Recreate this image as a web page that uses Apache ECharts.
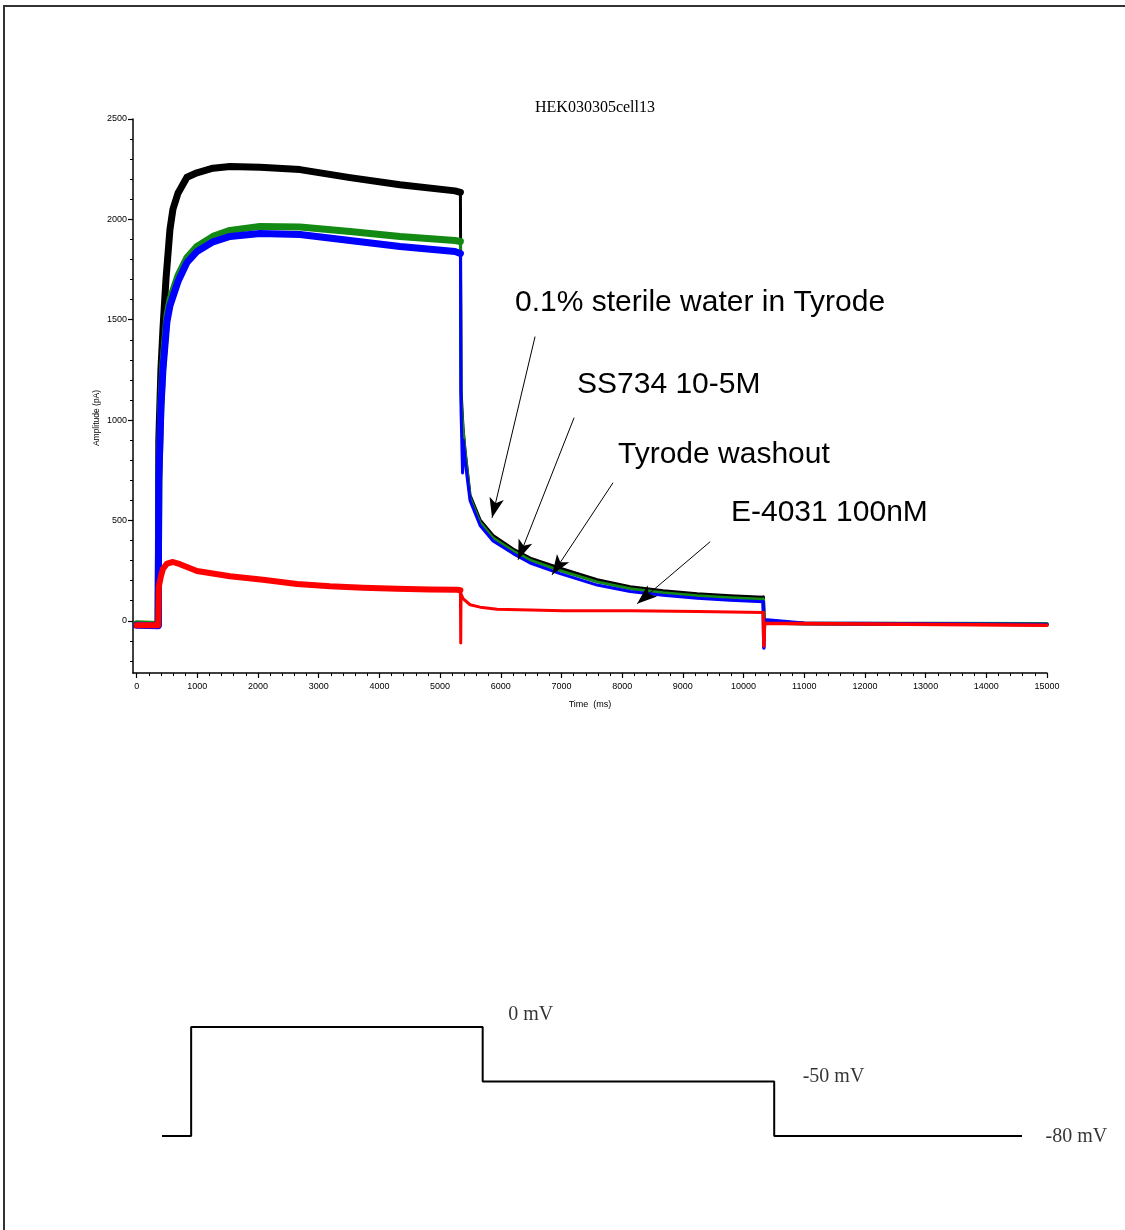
<!DOCTYPE html>
<html>
<head>
<meta charset="utf-8">
<title>HEK030305cell13</title>
<script src="https://cdn.jsdelivr.net/npm/echarts@6/dist/echarts.min.js"></script>
<style>
  html, body { margin: 0; padding: 0; background: #ffffff; }
  #chart { width: 1125px; height: 1230px; }
</style>
</head>
<body>
<div id="chart"></div>
<script>
// ---- Current traces, [time (ms), amplitude (pA)] ----
const blackTrace = [ // 0.1% sterile water in Tyrode
  [0, -18], [355, -20], [365, 900], [400, 1250], [433, 1450], [483, 1700], [549, 1950],
  [598, 2050], [681, 2130], [829, 2210], [994, 2232], [1258, 2255], [1538, 2263],
  [2032, 2260], [2692, 2248], [3516, 2208], [4340, 2172], [5246, 2142], [5335, 2135],
  [5345, 1150], [5378, 960], [5411, 850], [5494, 625], [5659, 503], [5873, 425],
  [6203, 358], [6484, 312], [6978, 262], [7588, 205], [8132, 170], [8676, 150],
  [9236, 135], [9780, 125], [10324, 118],
  [10340, -10], [11000, -15], [15000, -18]
];
const greenTrace = [ // SS734 10-5M
  [0, -15], [355, -18], [365, 700], [400, 1080], [433, 1280], [499, 1520], [549, 1600],
  [681, 1720], [829, 1810], [994, 1865], [1258, 1915], [1538, 1945], [2032, 1965],
  [2692, 1962], [3516, 1940], [4340, 1915], [5246, 1895], [5335, 1890],
  [5345, 1100], [5378, 950], [5411, 840], [5494, 612], [5659, 490], [5873, 412],
  [6203, 348], [6484, 302], [6978, 250], [7588, 194], [8132, 160], [8676, 140],
  [9236, 125], [9780, 115], [10324, 108],
  [10340, -5], [11000, -12], [15000, -15]
];
const blueTrace = [ // Tyrode washout
  [0, -22], [355, -24], [365, 700], [400, 1060], [433, 1250], [499, 1490], [549, 1570],
  [681, 1690], [829, 1785], [994, 1840], [1258, 1888], [1538, 1915], [2032, 1930],
  [2692, 1925], [3516, 1895], [4340, 1865], [5246, 1840], [5335, 1830],
  [5345, 1050], [5370, 737], [5382, 900], [5411, 800], [5494, 598], [5659, 475],
  [5873, 398], [6203, 335], [6484, 288], [6978, 235], [7588, 178], [8132, 146],
  [8676, 127], [9236, 112], [9780, 102], [10324, 95],
  [10335, -135], [10345, 5], [11000, -12], [15000, -18]
];
const redTrace = [ // E-4031 100nM
  [0, -22], [355, -22], [365, 170], [400, 222], [433, 258], [499, 285], [598, 293],
  [714, 282], [994, 248], [1538, 222], [2082, 205], [2642, 183], [3186, 172],
  [3730, 165], [4290, 160], [4834, 156], [5280, 155], [5335, 152],
  [5340, -110], [5345, 135], [5378, 110], [5494, 80], [5659, 68], [5939, 58],
  [7027, 50], [8132, 50], [9236, 46], [10324, 42],
  [10335, -125], [10345, -12], [15000, -22]
];

// Protocol phase boundaries (ms) used to split each trace
const stepOff = 5340;
const tailOff = 10335;

// Axis tick values
const xMajorTicks = [0, 1000, 2000, 3000, 4000, 5000, 6000, 7000, 8000, 9000, 10000, 11000, 12000, 13000, 14000, 15000];
const xMinorTicks = [];
for (let t = 200; t < 15000; t += 200) if (t % 1000 !== 0) xMinorTicks.push(t);
const yMajorTicks = [0, 500, 1000, 1500, 2000, 2500];
const yMinorTicks = [];
for (let v = -200; v < 2500; v += 100) if (v % 500 !== 0) yMinorTicks.push(v);

// Voltage protocol (schematic): breakpoints and level held between them
const protocolTimes = [0, 500, 5500, 10500, 14750];
const protocolLevels = ['-80', '0', '-50', '-80'];
const protocolLevelAxis = ['-80', '-50', '0'];

// Annotation arrows: [label, start [t, pA], tip [t, pA]]
const annotations = [
  ['0.1% sterile water in Tyrode', [6565, 1416], [5856, 513]],
  ['SS734 10-5M', [7208, 1012], [6285, 304]],
  ['Tyrode washout', [7850, 688], [6845, 229]],
  ['E-4031 100nM', [9450, 394], [8246, 85]]
];

// ---- helpers ----
function phase(trace, t0, t1) {
  const out = [];
  let prev = null;
  for (const p of trace) {
    if (p[0] < t0) prev = p;
    else if (p[0] < t1) out.push(p);
  }
  return prev ? [prev].concat(out) : out;
}

const traces = [
  { data: blackTrace, color: '#000000', width: 7 },
  { data: greenTrace, color: '#138a13', width: 7 },
  { data: blueTrace,  color: '#0000ff', width: 7 },
  { data: redTrace,   color: '#ff0000', width: 6 }
];

const series = [];
traces.forEach(tr => {
  const parts = [
    [phase(tr.data, -Infinity, stepOff), tr.width],
    [phase(tr.data, stepOff, tailOff), 3],
    [phase(tr.data, tailOff, Infinity), 3.5]
  ];
  parts.forEach(([d, w]) => {
    series.push({
      type: 'line', xAxisIndex: 0, yAxisIndex: 0,
      data: d, showSymbol: false, silent: true,
      lineStyle: { color: tr.color, width: w, join: 'round', cap: 'round' }
    });
  });
});

// Arrows pointing to the tail currents
series.push({
  type: 'line', xAxisIndex: 0, yAxisIndex: 0, data: [], silent: true,
  markLine: {
    silent: true, animation: false,
    symbol: ['none', 'arrow'], symbolSize: [11, 20],
    lineStyle: { color: '#000000', width: 1, type: 'solid' },
    label: { show: false },
    emphasis: { disabled: true },
    data: annotations.map(a => [{ coord: a[1] }, { coord: a[2] }])
  }
});

// Voltage step protocol
const protocolData = [];
for (let i = 0; i < protocolLevels.length; i++) {
  protocolData.push([protocolTimes[i], protocolLevels[i]]);
  protocolData.push([protocolTimes[i + 1], protocolLevels[i]]);
}
series.push({
  type: 'line', xAxisIndex: 2, yAxisIndex: 2, data: protocolData,
  showSymbol: false, silent: true,
  lineStyle: { color: '#000000', width: 2 }
});
const protocolLabelOffsets = [[25, -12], [28, -5], [23, 1]];
series.push({
  type: 'scatter', xAxisIndex: 2, yAxisIndex: 2, silent: true,
  symbolSize: 1, itemStyle: { color: 'rgba(0,0,0,0)' },
  data: protocolLevels.slice(1).map((lv, i) => ({
    value: [protocolTimes[i + 2], lv],
    label: { offset: protocolLabelOffsets[i] }
  })),
  label: {
    show: true, position: 'right', distance: 0,
    formatter: p => p.value[1] + ' mV',
    fontFamily: '"Liberation Serif", "Times New Roman", serif',
    fontSize: 20, color: '#000000'
  }
});

const plainNumber = v => String(v);
const axisFont = { fontFamily: '"Liberation Sans", Arial, sans-serif', fontSize: 9, color: '#000000' };

const option = {
  animation: false,
  backgroundColor: '#ffffff',
  title: {
    text: 'HEK030305cell13',
    left: 590, top: 95, textAlign: 'center',
    textStyle: { fontFamily: '"Liberation Serif", "Times New Roman", serif', fontSize: 16, fontWeight: 'normal', color: '#000000' }
  },
  grid: [
    { left: 133, top: 119, width: 914, height: 554, outerBoundsMode: 'none', containLabel: false },
    { left: 162, top: 1027, width: 860, height: 109, outerBoundsMode: 'none', containLabel: false }
  ],
  xAxis: [
    {
      type: 'value', gridIndex: 0, position: 'bottom', min: -60, max: 15000,
      axisLine: { show: true, onZero: false, lineStyle: { color: '#000000', width: 1.5 } },
      axisTick: { show: true, length: 5, customValues: xMajorTicks, lineStyle: { color: '#000000', width: 1.2 } },
      axisLabel: Object.assign({ show: true, margin: 9, customValues: xMajorTicks, formatter: plainNumber }, axisFont),
      splitLine: { show: false },
      name: 'Time  (ms)', nameLocation: 'middle', nameGap: 27,
      nameTextStyle: { fontFamily: '"Liberation Sans", Arial, sans-serif', fontSize: 9, color: '#000000' }
    },
    {
      type: 'value', gridIndex: 0, position: 'bottom', min: -60, max: 15000,
      axisLine: { show: false, onZero: false },
      axisTick: { show: true, length: 3, customValues: xMinorTicks, lineStyle: { color: '#000000', width: 1 } },
      axisLabel: { show: false }, splitLine: { show: false }
    },
    {
      type: 'value', gridIndex: 1, min: 0, max: 14750, show: false
    }
  ],
  yAxis: [
    {
      type: 'value', gridIndex: 0, position: 'left', min: -260, max: 2500,
      axisLine: { show: true, onZero: false, lineStyle: { color: '#000000', width: 1.5 } },
      axisTick: { show: true, length: 5, customValues: yMajorTicks, lineStyle: { color: '#000000', width: 1.2 } },
      axisLabel: Object.assign({ show: true, margin: 6, customValues: yMajorTicks, formatter: plainNumber }, axisFont),
      splitLine: { show: false }
    },
    {
      type: 'value', gridIndex: 0, position: 'left', min: -260, max: 2500,
      axisLine: { show: false, onZero: false },
      axisTick: { show: true, length: 3, customValues: yMinorTicks, lineStyle: { color: '#000000', width: 1 } },
      axisLabel: { show: false }, splitLine: { show: false }
    },
    {
      type: 'category', gridIndex: 1, data: protocolLevelAxis, boundaryGap: false, show: false
    }
  ],
  graphic: [
    {
      type: 'rect', silent: true, z: -1,
      shape: { x: 4, y: 6, width: 1300, height: 1400 },
      style: { fill: null, stroke: '#333333', lineWidth: 2 }
    },
    {
      type: 'text', silent: true, x: 97, y: 418, rotation: Math.PI / 2,
      style: {
        text: 'Amplitude (pA)', textAlign: 'center', textVerticalAlign: 'middle',
        font: '8.5px "Liberation Sans", Arial, sans-serif', fill: '#000000'
      }
    },
    ...[[515, 303], [577, 385], [618, 455], [731, 513]].map((pos, i) => ({
      type: 'text', silent: true, x: pos[0], y: pos[1],
      style: {
        text: annotations[i][0], textAlign: 'left', textVerticalAlign: 'middle',
        font: '30px "Liberation Sans", Arial, sans-serif', fill: '#000000'
      }
    }))
  ],
  series: series
};

const chart = echarts.init(document.getElementById('chart'), null, { renderer: 'canvas' });
chart.setOption(option);
</script>
</body>
</html>
